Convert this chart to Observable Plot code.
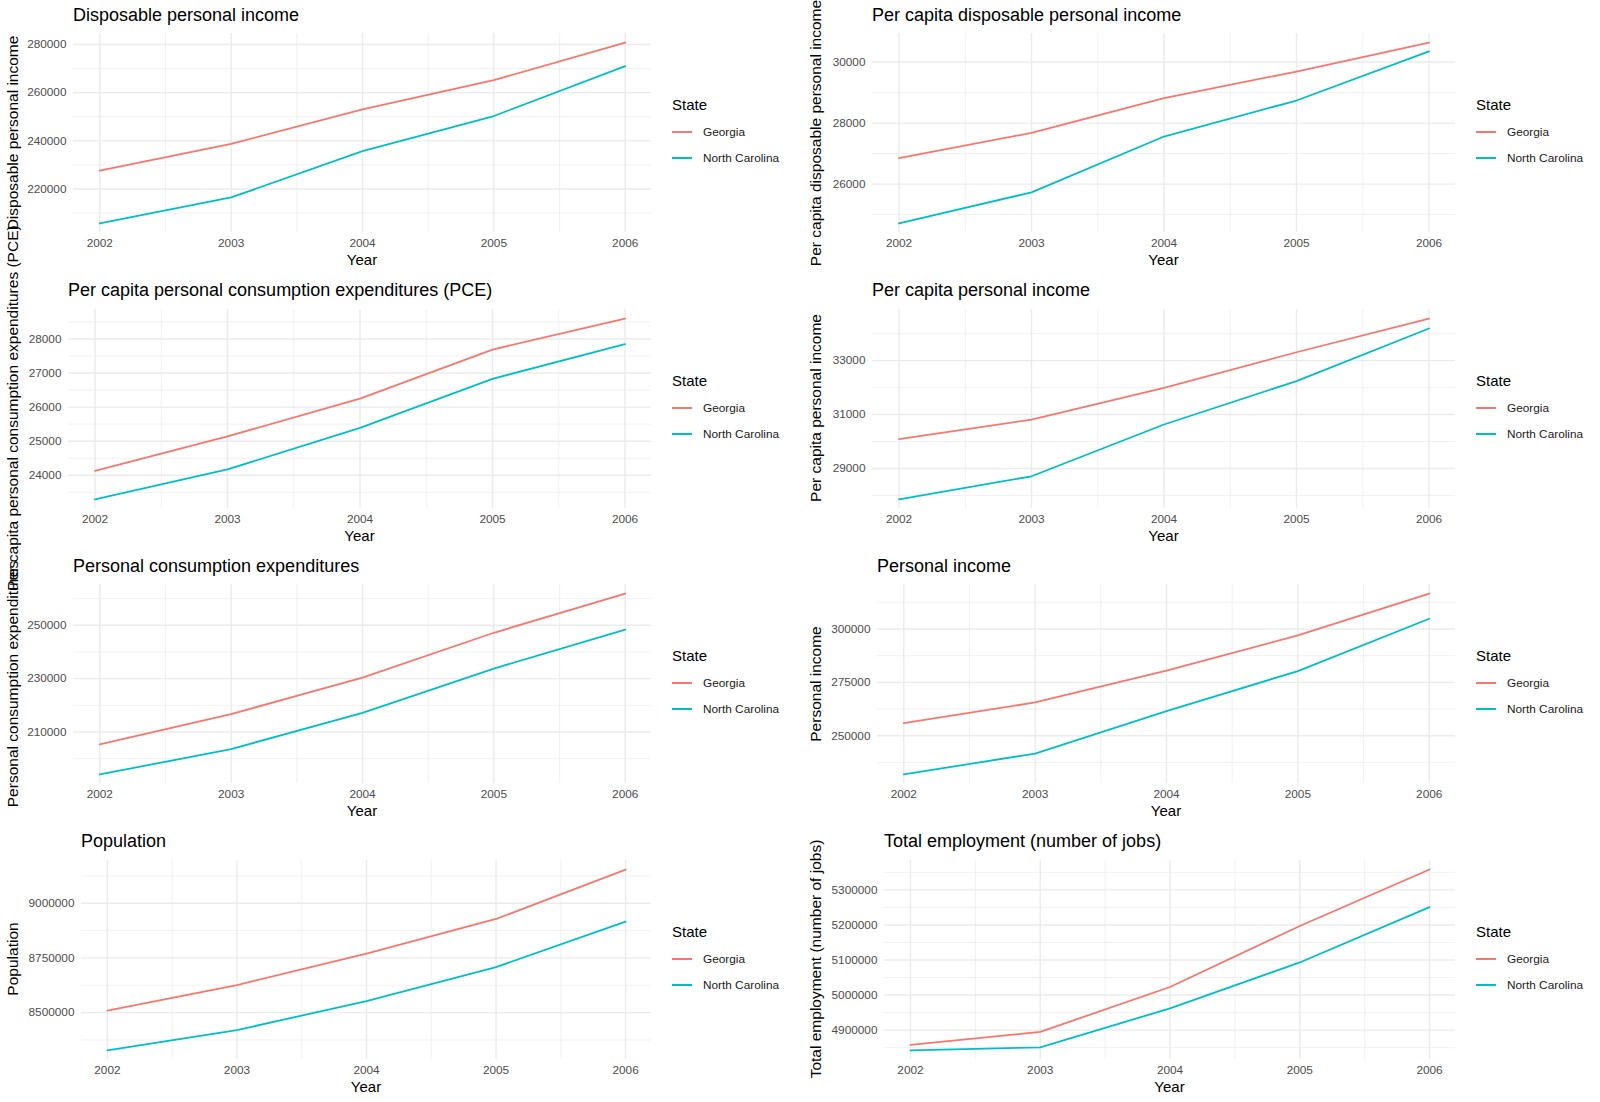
<!DOCTYPE html>
<html><head><meta charset="utf-8">
<script src="https://cdn.jsdelivr.net/npm/d3@7"></script>
<script src="https://cdn.jsdelivr.net/npm/@observablehq/plot@0.6"></script>
<style>
body{margin:0;background:#fff;font-family:"Liberation Sans",Arial,Helvetica,sans-serif;}
#root{position:relative;width:1600px;height:1102px;overflow:hidden;background:#fff;}
.cell{position:absolute;width:800px;height:276px;}
.cell svg{position:absolute;left:0;top:0;overflow:visible;}
.title{position:absolute;font-size:18px;line-height:18px;white-space:nowrap;color:#000;}
.xlab{position:absolute;font-size:15px;line-height:15px;white-space:nowrap;color:#000;transform:translateX(-50%);}
.ylab{position:absolute;font-size:15.5px;line-height:15.5px;white-space:nowrap;color:#000;transform:translate(-50%,-50%) rotate(-90deg);}
.legend{position:absolute;color:#000;}
.legend .lt{font-size:15px;line-height:15px;margin-bottom:7px;}
.legend .row{display:flex;align-items:center;height:26px;font-size:11.8px;color:#1a1a1a;}
.legend .key{width:20px;height:1.8px;margin-right:11px;}
</style></head><body><div id="root"></div><script>
const years = [2002, 2003, 2004, 2005, 2006];
const states = ["Georgia", "North Carolina"];
const stateColors = ["#F8766D", "#00BFC4"];
const titles = [
  "Disposable personal income",
  "Per capita disposable personal income",
  "Per capita personal consumption expenditures (PCE)",
  "Per capita personal income",
  "Personal consumption expenditures",
  "Personal income",
  "Population",
  "Total employment (number of jobs)"
];
// Georgia / North Carolina values per panel
const dpiGA = [227600, 238700, 253100, 265200, 280800];
const dpiNC = [205700, 216500, 235700, 250300, 271000];
const pcDpiGA = [26850, 27680, 28820, 29690, 30640];
const pcDpiNC = [24710, 25730, 27560, 28740, 30350];
const pcPceGA = [24130, 25140, 26250, 27690, 28600];
const pcPceNC = [23290, 24170, 25390, 26830, 27850];
const pcPiGA = [30090, 30810, 31990, 33310, 34560];
const pcPiNC = [27850, 28710, 30630, 32240, 34190];
const pceGA = [205400, 216700, 230400, 247200, 261900];
const pceNC = [194100, 203600, 217200, 233800, 248400];
const piGA = [255900, 265600, 280500, 297000, 316600];
const piNC = [231900, 241700, 261600, 280300, 304800];
const popGA = [8509000, 8626000, 8770000, 8928000, 9154000];
const popNC = [8327000, 8420000, 8553000, 8708000, 8916000];
const empGA = [4858000, 4895000, 5023000, 5197000, 5358000];
const empNC = [4842000, 4851000, 4962000, 5093000, 5251000];
// y tick labels per panel
const ticks1 = [220000, 240000, 260000, 280000];
const ticks2 = [26000, 28000, 30000];
const ticks3 = [24000, 25000, 26000, 27000, 28000];
const ticks4 = [29000, 31000, 33000];
const ticks5 = [210000, 230000, 250000];
const ticks6 = [250000, 275000, 300000];
const ticks7 = [8500000, 8750000, 9000000];
const ticks8 = [4900000, 5000000, 5100000, 5200000, 5300000];

const series = [[dpiGA, dpiNC], [pcDpiGA, pcDpiNC], [pcPceGA, pcPceNC], [pcPiGA, pcPiNC],
  [pceGA, pceNC], [piGA, piNC], [popGA, popNC], [empGA, empNC]];
const tickSets = [ticks1, ticks2, ticks3, ticks4, ticks5, ticks6, ticks7, ticks8];
const marginLefts = [73, 72, 68, 72, 73, 77, 81, 84];

const root = document.getElementById("root");
const W = 800, H = 276, MT = 33, MB = 44;
const rowH = 275.5;
const ylabs = [];

series.forEach((pair, i) => {
  const row = Math.floor(i / 2), col = i % 2;
  const ml = marginLefts[i];
  const mr = col === 0 ? 149 : 145;
  const data = [];
  states.forEach((s, k) => years.forEach((y, j) => data.push({state: s, year: y, value: pair[k][j]})));
  const [lo, hi] = d3.extent(data, d => d.value);
  const pad = (hi - lo) * 0.05;
  const dom = [lo - pad, hi + pad];
  const ticks = tickSets[i];
  const step = ticks[1] - ticks[0];
  const minorY = [ticks[0] - step / 2, ...ticks.map(t => t + step / 2)].filter(v => v >= dom[0] && v <= dom[1]);
  const minorX = years.slice(0, -1).map(y => y + 0.5);

  const cell = document.createElement("div");
  cell.className = "cell";
  cell.style.left = (col * 800) + "px";
  cell.style.top = (row * rowH) + "px";
  root.appendChild(cell);

  const svg = Plot.plot({
    width: W, height: H, marginTop: MT, marginBottom: MB, marginLeft: ml, marginRight: mr,
    style: {fontFamily: '"Liberation Sans", Arial, sans-serif', fontSize: "11.8px", background: "transparent"},
    x: {domain: [2001.8, 2006.2]},
    y: {domain: dom},
    color: {domain: states, range: stateColors},
    marks: [
      Plot.ruleY(minorY, {stroke: "#EBEBEB", strokeWidth: 0.7}),
      Plot.ruleX(minorX, {stroke: "#EBEBEB", strokeWidth: 0.7}),
      Plot.ruleY(ticks, {stroke: "#EBEBEB", strokeWidth: 1.4}),
      Plot.ruleX(years, {stroke: "#EBEBEB", strokeWidth: 1.4}),
      Plot.line(data, {x: "year", y: "value", z: "state", stroke: "state", strokeWidth: 1.8}),
      Plot.axisY(ticks, {tickSize: 0, tickPadding: 7, tickFormat: d => String(d), label: null, fill: "#4D4D4D", fontSize: 11.8}),
      Plot.axisX(years, {tickSize: 0, tickPadding: 6.5, tickFormat: d => String(d), label: null, fill: "#4D4D4D", fontSize: 11.8})
    ]
  });
  cell.appendChild(svg);

  const t = document.createElement("div");
  t.className = "title";
  t.textContent = titles[i];
  t.style.left = ml + "px";
  t.style.top = "5.8px";
  cell.appendChild(t);

  const xl = document.createElement("div");
  xl.className = "xlab";
  xl.textContent = "Year";
  xl.style.left = ((ml + (W - mr)) / 2) + "px";
  xl.style.top = "252.3px";
  cell.appendChild(xl);

  const lg = document.createElement("div");
  lg.className = "legend";
  lg.style.left = (W - mr + 21) + "px";
  lg.style.top = "97.3px";
  lg.innerHTML = `<div class="lt">State</div>` + states.map((s, k) =>
    `<div class="row"><div class="key" style="background:${stateColors[k]}"></div><span>${s}</span></div>`).join("");
  cell.appendChild(lg);

  ylabs.push({text: titles[i], x: col * 800 + (col === 0 ? 13 : 16), y: row * rowH + (MT + (H - MB)) / 2});
});

ylabs.forEach(l => {
  const d = document.createElement("div");
  d.className = "ylab";
  d.textContent = l.text;
  d.style.left = l.x + "px";
  d.style.top = l.y + "px";
  root.appendChild(d);
});
</script></body></html>
